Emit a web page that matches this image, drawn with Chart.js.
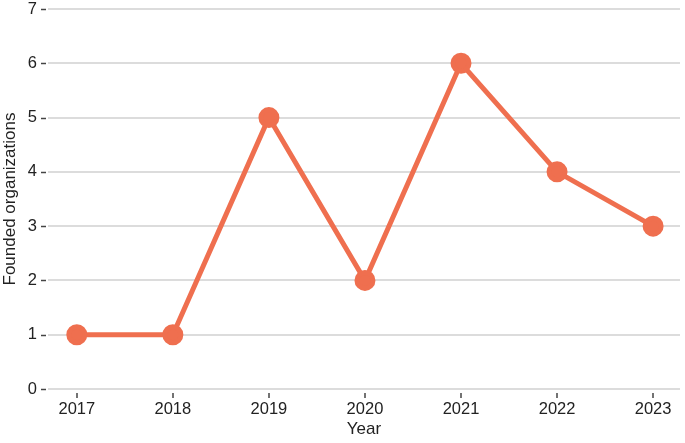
<!DOCTYPE html>
<html>
<head>
<meta charset="utf-8">
<script src="https://cdn.jsdelivr.net/npm/chart.js@4/dist/chart.umd.min.js"></script>
<style>
  html, body { margin: 0; padding: 0; background: #fff; }
  #wrap { width: 685px; height: 443px; }
</style>
</head>
<body>
<div id="wrap"><canvas id="chart" width="685" height="443"></canvas></div>
<script>
const years = [2017, 2018, 2019, 2020, 2021, 2022, 2023];
const founded = [1, 1, 5, 2, 6, 4, 3];
const yTicks = [0, 1, 2, 3, 4, 5, 6, 7];

const lineColor = '#ef6f4f';
const textColor = '#222';
const fontFamily = 'Liberation Sans, Arial, sans-serif';

// small detached tick marks like the original (gap between mark and grid)
const tickMarks = {
    id: 'tickMarks',
    afterDraw(chart) {
        const ctx = chart.ctx;
        const x = chart.scales.x, y = chart.scales.y;
        ctx.save();
        ctx.strokeStyle = '#444';
        ctx.lineWidth = 1.5;
        y.ticks.forEach(t => {
            const py = Math.round(y.getPixelForValue(t.value)) + 0.5;
            ctx.beginPath();
            ctx.moveTo(x.left - 7, py);
            ctx.lineTo(x.left - 2, py);
            ctx.stroke();
        });
        x.ticks.forEach(t => {
            const px = Math.round(x.getPixelForValue(t.value));
            ctx.beginPath();
            ctx.moveTo(px, y.bottom + 4);
            ctx.lineTo(px, y.bottom + 9);
            ctx.stroke();
        });
        ctx.restore();
    }
};

new Chart(document.getElementById('chart'), {
    type: 'line',
    data: {
        datasets: [{
            data: years.map((yr, i) => ({ x: yr, y: founded[i] })),
            borderColor: lineColor,
            backgroundColor: lineColor,
            borderWidth: 5,
            pointRadius: 8,
            pointHoverRadius: 8,
            tension: 0,
            clip: false
        }]
    },
    options: {
        responsive: false,
        animation: false,
        layout: { autoPadding: false, padding: { top: 9, right: 5 } },
        plugins: { legend: { display: false }, tooltip: { enabled: false } },
        scales: {
            x: {
                type: 'linear',
                min: 2016.7,
                max: 2023.28,
                afterBuildTicks: s => { s.ticks = years.map(v => ({ value: v })); },
                afterFit: s => { s.height = 54; s.paddingLeft = 0; s.paddingRight = 0; },
                border: { display: false },
                grid: { display: false, drawTicks: false },
                ticks: {
                    color: textColor,
                    padding: 11,
                    maxRotation: 0,
                    font: { family: fontFamily, size: 16.5 },
                    callback: v => String(v)
                },
                title: {
                    display: true,
                    text: 'Year',
                    color: textColor,
                    padding: { top: 0, bottom: 3 },
                    font: { family: fontFamily, size: 17 }
                }
            },
            y: {
                min: 0,
                max: 7,
                afterBuildTicks: s => { s.ticks = yTicks.map(v => ({ value: v })); },
                afterFit: s => { s.width = 48; s.paddingTop = 0; s.paddingBottom = 0; },
                border: { display: false },
                grid: { color: '#dcdcdc', lineWidth: 2, drawTicks: false },
                ticks: {
                    color: textColor,
                    padding: 11,
                    font: { family: fontFamily, size: 16.5 }
                },
                title: {
                    display: true,
                    text: 'Founded organizations',
                    color: textColor,
                    padding: { top: 0, bottom: 0 },
                    font: { family: fontFamily, size: 17 }
                }
            }
        }
    },
    plugins: [tickMarks]
});
</script>
</body>
</html>
